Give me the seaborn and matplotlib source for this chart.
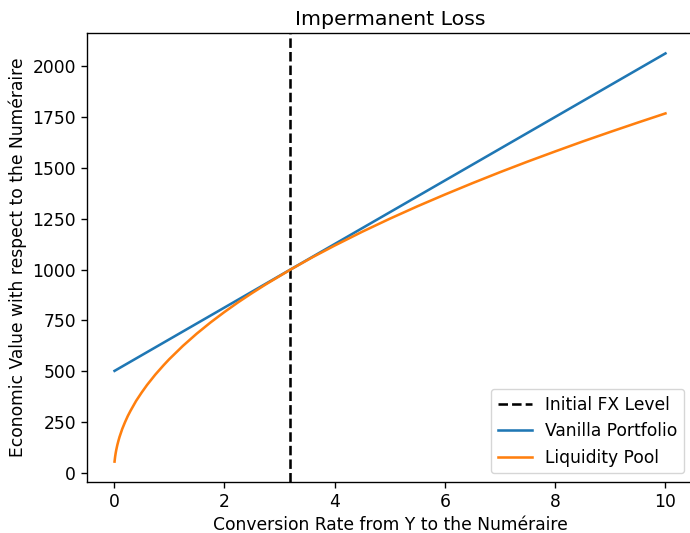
import matplotlib
matplotlib.use("Agg")
import matplotlib.pyplot as plt
import seaborn as sns
import pandas as pd

# Values
initial_fx = 3.2

vanilla_x = [0.01, 10.0]
vanilla_y = [502, 2063]

pool_x = [0.01, 0.02, 0.03, 0.04, 0.06, 0.08, 0.1, 0.15, 0.2, 0.25, 0.3, 0.4, 0.5, 0.6,
          0.75, 0.9, 1.0, 1.25, 1.5, 1.75, 2.0, 2.25, 2.5, 2.75, 3.2, 3.6, 4.0, 4.5,
          5.0, 5.5, 6.0, 6.5, 7.0, 7.5, 8.0, 8.5, 9.0, 9.5, 10.0]
pool_y = [56, 79, 97, 112, 137, 158, 177, 217, 250, 280, 306, 354, 395, 433,
          484, 530, 559, 625, 685, 740, 791, 839, 884, 927, 1000, 1061, 1118, 1186,
          1250, 1311, 1369, 1425, 1479, 1531, 1581, 1630, 1677, 1723, 1768]

vanilla = pd.DataFrame({"x": vanilla_x, "y": vanilla_y})
pool = pd.DataFrame({"x": pool_x, "y": pool_y})

# reference looks like the default style rendered ~1.23x larger
s = 1.23
plt.rcParams.update({
    "font.size": 10 * s,
    "axes.titlesize": 12 * s,
    "axes.labelsize": 10 * s,
    "xtick.labelsize": 10 * s,
    "ytick.labelsize": 10 * s,
    "legend.fontsize": 10 * s,
    "lines.linewidth": 1.5 * s,
    "axes.linewidth": 0.8 * s,
    "xtick.major.size": 3.5 * s,
    "ytick.major.size": 3.5 * s,
    "xtick.major.width": 0.8 * s,
    "ytick.major.width": 0.8 * s,
})

fig = plt.figure(figsize=(6.9, 5.33), dpi=100)
ax = fig.add_axes([87 / 690, 51 / 533, 606 / 690, 449 / 533])

ax.axvline(initial_fx, color="black", linestyle="--", label="Initial FX Level")
sns.lineplot(data=vanilla, x="x", y="y", ax=ax, color="#1f77b4", label="Vanilla Portfolio")
sns.lineplot(data=pool, x="x", y="y", ax=ax, color="#ff7f0e", label="Liquidity Pool")

ax.set_title("Impermanent Loss")
ax.set_xlabel("Conversion Rate from Y to the Numéraire")
ax.set_ylabel("Economic Value with respect to the Numéraire")
ax.legend(loc="lower right")

plt.savefig("out.png", dpi=100)
plt.close()
